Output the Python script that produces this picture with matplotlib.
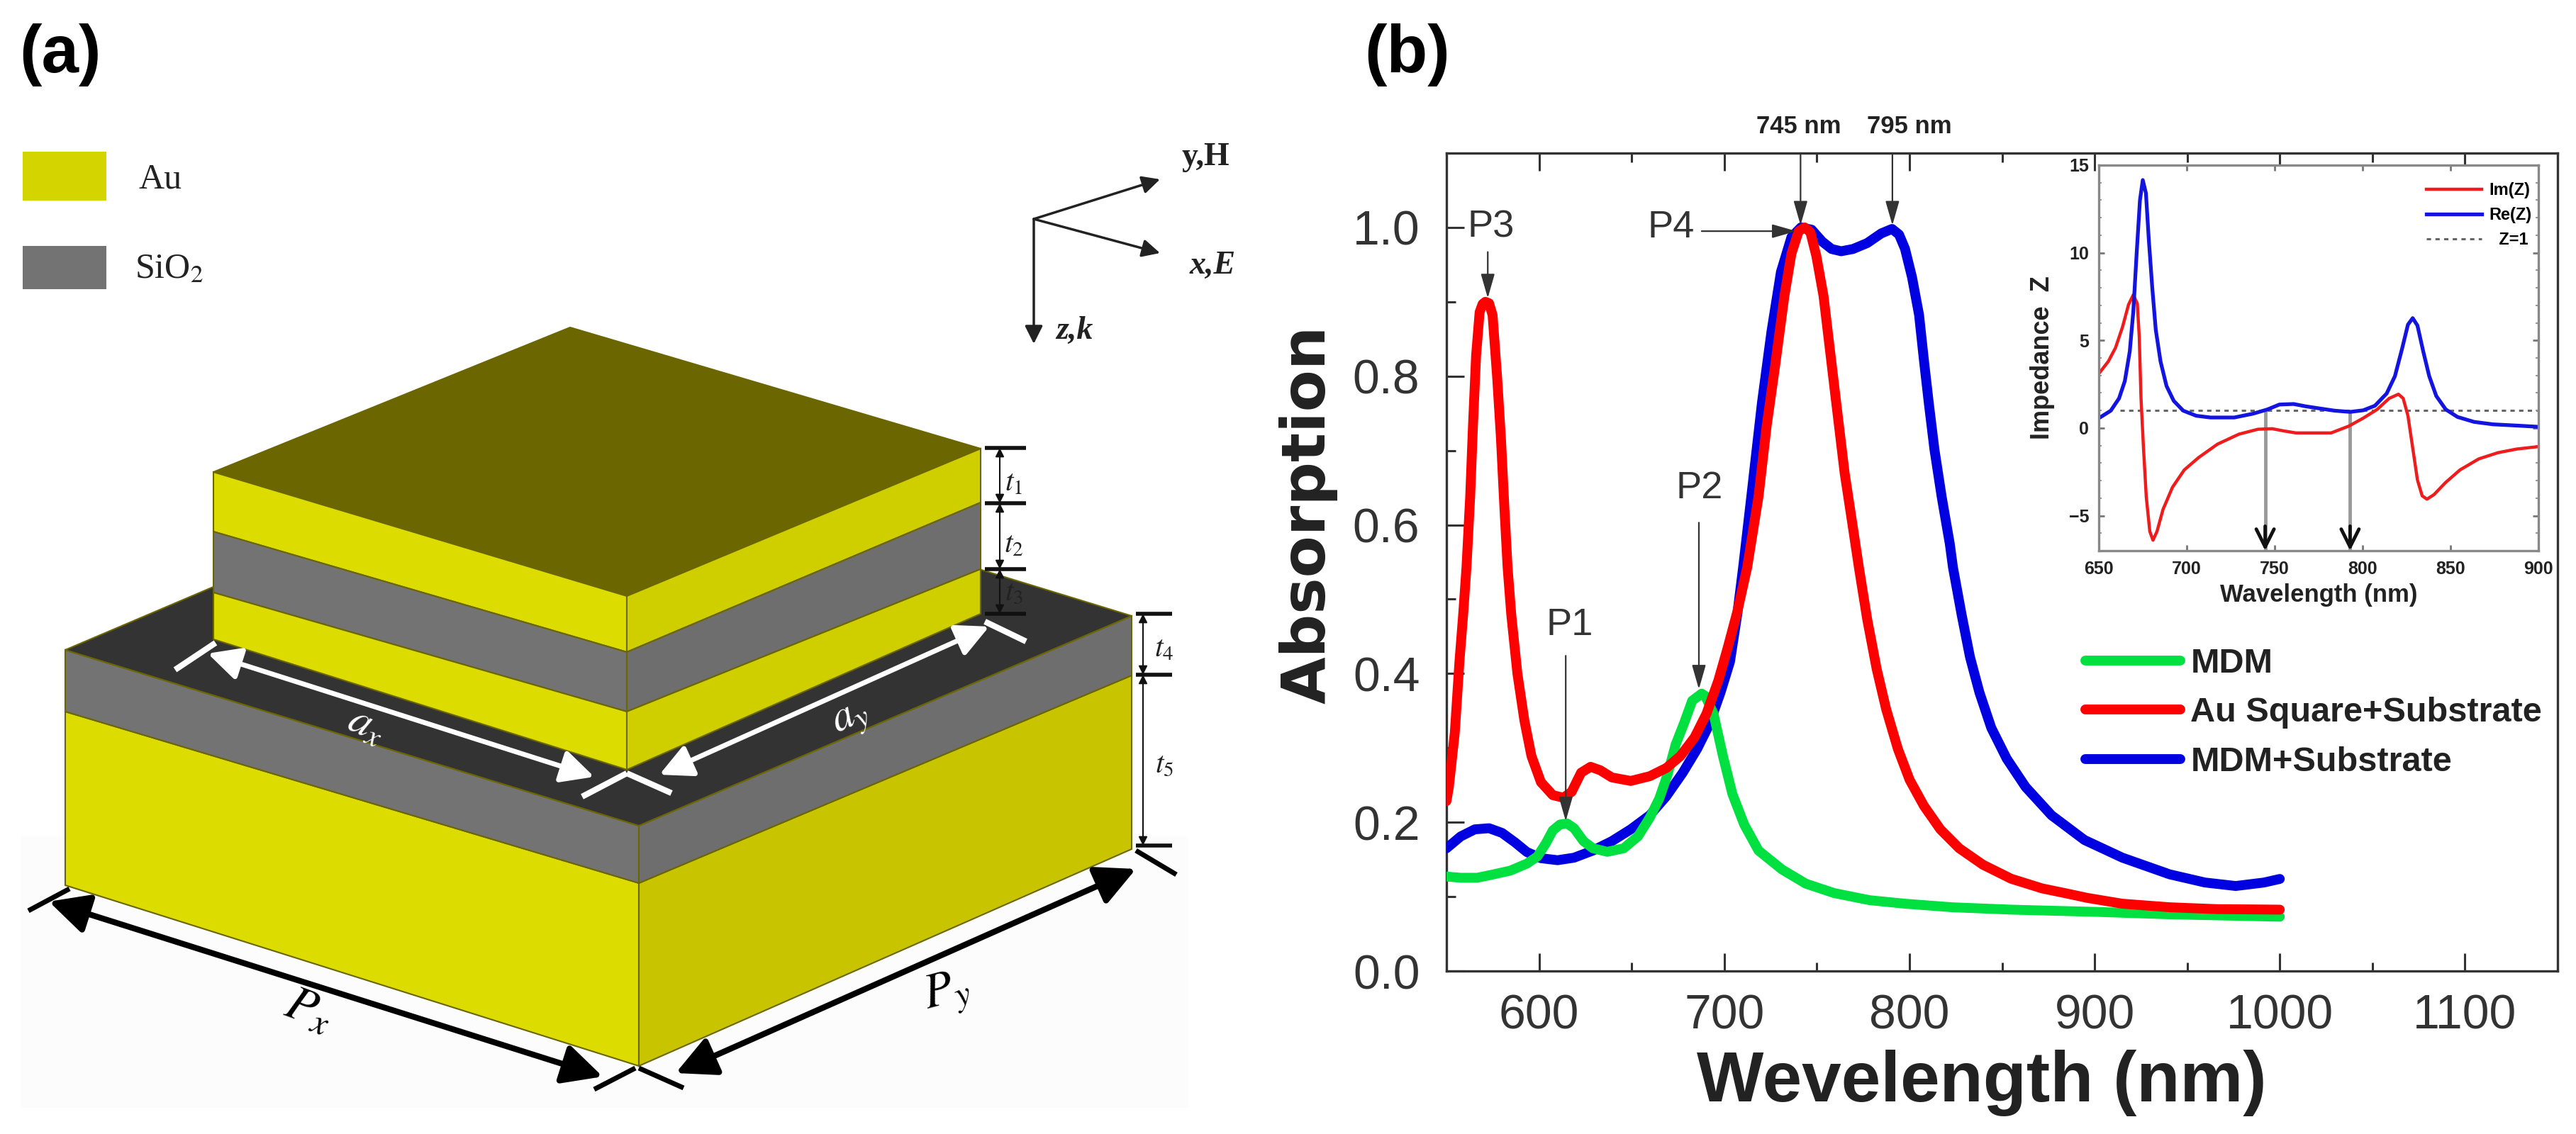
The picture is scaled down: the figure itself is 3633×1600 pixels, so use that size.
from matplotlib import pyplot as plt
from matplotlib.patches import Polygon, Rectangle

plt.rcParams['font.family'] = ['Liberation Sans', 'DejaVu Sans']
plt.rcParams['mathtext.fontset'] = 'stix'

# absorption curves
red_x = [550, 551.3, 554.5, 557, 559, 560.8, 562.8, 564.3, 566, 567.9, 569.5, 571, 573, 574.9, 577.4, 579.4, 581.3, 583,
         585, 588.3, 592.1, 595.9, 601, 607.4, 613.2, 617.6, 622.7, 627.8, 633, 639.3, 649.5, 659.8, 668.7, 676.3, 684,
         690.4, 696.8, 701.9, 707, 712.4, 718.5, 722.9, 727.4, 732.5, 736.3, 740.2, 743.4, 746.5, 749.7, 753.6, 757.4,
         761.2, 765, 768.9, 772.7, 777.2, 782.3, 787.4, 793.8, 800.1, 807.8, 816.7, 826.9, 839.7, 855, 871.6, 886.9,
         895.8, 914.9, 940.5, 966, 1000]
red_y = [.2286, .2476, .3206, .416, .479, .543, .638, .733, .828, .886, .897, .90, .898, .882, .797, .717, .622, .543,
         .479, .40, .3365, .289, .254, .2365, .233, .241, .2667, .2746, .27, .2603, .2556, .262, .273, .289, .3143,
         .346, .3905, .435, .4826, .543, .638, .733, .8126, .908, .965, .995, 1.0, .9936, .962, .908, .8285,
         .749, .67, .606, .543, .473, .4064, .3524, .2984, .2571, .2222, .1905, .165, .1429, .124, .1111, .1032,
         .0984, .0905, .0857, .0832, .0825]
blue_x = [550, 557.7, 565.3, 573, 580, 587, 593.4, 601, 610, 618.9, 629.1, 639.3, 649.5, 659.8, 668.7, 677.6, 685.3, 691.7,
          698, 703.1, 707, 710.2, 714.6, 720.4, 725.5, 730.6, 736.3, 741.4, 747.2, 752.9, 758, 763.1, 769.5, 777.2, 784.8,
          790.6, 794.4, 797.6, 801.4, 805.2, 807.8, 810.4, 813.5, 817.4, 821.8, 823.5, 828.2, 832.7, 837.8, 844.2, 852.5,
          862.7, 876.7, 894.5, 915, 940.5, 959.6, 976.2, 991.5, 1000]
blue_y = [.165, .181, .1905, .192, .1857, .173, .16, .1517, .149, .1524, .162, .1746, .1905, .2095, .235, .2667, .2984, .3302,
          .3746, .416, .479, .543, .638, .765, .86, .94, .987, 1.0, .997, .981, .971, .968, .971, .979, .992,
          .998, .9904, .9714, .933, .8825, .822, .765, .7015, .638, .5745, .543, .479, .4223, .3746, .327, .2857,
          .2476, .2095, .1762, .1524, .13, .119, .1143, .119, .1238]
green_x = [550, 557.7, 566.6, 575.5, 584.5, 593.4, 599.1, 603.6, 607.4, 611.3, 615.1, 618.9, 624, 629.1, 636.8, 645.7, 653.4,
           659.8, 664.9, 669.3, 673.8, 678.3, 682.7, 687.8, 689.7, 694.2, 699.3, 704.4, 710.8, 718.5, 731.2, 744, 759.3,
           778.5, 797.6, 823.1, 855, 902.2, 940.5, 1000]
green_y = [.127, .1254, .1254, .13, .135, .1444, .154, .1714, .189, .197, .1984, .192, .1746, .165, .1603, .165, .181,
           .2063, .2318, .2635, .3048, .3333, .3635, .373, .37, .346, .289, .238, .1968, .162, .1365, .1175, .1048,
           .0952, .0905, .0857, .0825, .0794, .0762, .0730]

# impedance curves from the inset
im_x = [650, 655.4, 659.5, 663.5, 666.9, 669.6, 671.9, 673, 674, 675.4, 677, 679, 680.8, 683.1, 686.5, 691.9, 698.6, 706.7,
        717.5, 729.7, 740.5, 748.6, 755.4, 762.1, 767.5, 782.1, 792.2, 800.3, 808.3, 815.1, 820.4, 823.1, 825.8, 828.5,
        831.2, 833.9, 836.6, 840.6, 847.3, 855.4, 866.1, 876.9, 887.6, 900]
im_y = [3.1, 3.8, 4.58, 5.77, 7.04, 7.6, 7.1, 5.2, 1.7, -1.13, -3.94, -5.9, -6.4, -5.9, -4.65, -3.38, -2.39, -1.69,
        -.92, -.35, -.07, -.04, -.17, -.28, -.28, -.28, .11, .56, 1.06, 1.69, 1.93, 1.69, .7, -1.13,
        -2.96, -3.87, -4.06, -3.8, -3.1, -2.39, -1.76, -1.41, -1.2, -1.06]
re_x = [650, 656.8, 661.5, 664.8, 667.6, 669.6, 671.6, 673.4, 675, 676.8, 678.4, 680.4, 682.4, 685.1, 688.5, 692.6, 698, 705.4,
        713.5, 727, 737.8, 745.9, 752.7, 760.8, 767.5, 774.7, 784.1, 792.9, 800.3, 807, 813.7, 818.4, 822.4, 825.8, 828.5,
        831.2, 834.5, 837.9, 841.9, 847.3, 854, 863.4, 874.2, 887.6, 900]
re_y = [.56, .99, 1.69, 2.68, 4.37, 6.62, 10.1, 13, 14.15, 13.4, 10.8, 8, 5.6, 3.8, 2.4, 1.55, .99, .7,
        .6, .6, .82, 1.06, 1.34, 1.37, 1.24, 1.13, .99, .92, 1.01, 1.27, 1.97, 2.96, 4.5, 5.9, 6.27,
        5.85, 4.37, 2.96, 1.83, 1.06, .63, .35, .21, .14, .07]
z_line_x = [662, 900]
z_line_y = [1, 1]

x_ticks = [600, 700, 800, 900, 1000, 1100]
x_minor = [550, 650, 750, 850, 950, 1050, 1150]
y_ticks = [0.0, 0.2, 0.4, 0.6, 0.8, 1.0]
y_minor = [0.1, 0.3, 0.5, 0.7, 0.9]
inset_x_ticks = [650, 700, 750, 800, 850, 900]
inset_y_ticks = [-5, 0, 5, 10, 15]
inset_y_minor = [-6, -4, -3, -2, -1, 1, 2, 3, 4, 6, 7, 8, 9, 11, 12, 13, 14]
marked_nm = [744.6, 792.9]

# schematic of panel (a), pixel positions of the block corners
base_left = [[92, 1004], [901, 1246], [901, 1504], [92, 1249]]
base_right = [[901, 1246], [1596, 953], [1596, 1198], [901, 1504]]
sio_left = [[92, 917], [901, 1165], [901, 1246], [92, 1004]]
sio_right = [[901, 1165], [1596, 869], [1596, 953], [901, 1246]]
sio_top = [[92, 917], [787, 621], [1596, 869], [901, 1165]]
top_face = [[804, 462], [1383, 633], [884, 841], [301, 666]]
left_bands = [(666, 750, 841, 920, '#dcdc00'), (750, 836, 920, 1004, '#737373'), (836, 902, 1004, 1086, '#dcdc00')]
right_bands = [(841, 920, 633, 709, '#cfcf00'), (920, 1004, 709, 803, '#6e6e6e'), (1004, 1086, 803, 866, '#cfcf00')]

fig = plt.figure(figsize=(36.33, 16), dpi=100)
W, H = 3633.0, 1600.0

# full figure layer for panel (a) in pixel coordinates
bg = fig.add_axes([0, 0, 1, 1])
bg.set_xlim(0, W)
bg.set_ylim(H, 0)
bg.axis('off')

bg.add_patch(Rectangle((29, 1180), 1647, 383, fc='#fcfcfc', ec='none'))
for pts, col in [(base_left, '#dcdc00'), (base_right, '#c8c400'), (sio_left, '#737373'), (sio_right, '#6e6e6e'),
                 (sio_top, '#333333'), (top_face, '#6b6600')]:
    bg.add_patch(Polygon(pts, fc=col, ec='#6b6600', lw=1.5))
for y0, y1, y2, y3, col in left_bands:
    bg.add_patch(Polygon([[301, y0], [884, y2], [884, y3], [301, y1]], fc=col, ec='#6b6600', lw=1.5))
for y0, y1, y2, y3, col in right_bands:
    bg.add_patch(Polygon([[884, y0], [1383, y2], [1383, y3], [884, y1]], fc=col, ec='#6b6600', lw=1.5))

# material key
bg.add_patch(Rectangle((32, 214), 118, 69, fc='#d4d400', ec='none'))
bg.add_patch(Rectangle((32, 347), 118, 61, fc='#737373', ec='none'))
bg.text(195, 253, 'Au', family='Liberation Serif', fontsize=36, color='#222222', va='center')
bg.text(190, 380, 'SiO$_2$', family='Liberation Serif', fontsize=36, color='#222222', va='center')

# field directions
for tip in [(1636, 253), (1636, 357), (1458, 485)]:
    bg.annotate('', xy=tip, xytext=(1458, 309),
                arrowprops=dict(arrowstyle='-|>', color='#222222', lw=2.5, mutation_scale=38, shrinkA=0, shrinkB=0))
bg.text(1700, 222, 'y,H', family='Liberation Serif', weight='bold', fontsize=33, color='#222222', ha='center', va='center')
bg.text(1710, 375, 'x,E', family='Liberation Serif', weight='bold', style='italic', fontsize=33, color='#222222', ha='center', va='center')
bg.text(1515, 467, 'z,k', family='Liberation Serif', weight='bold', style='italic', fontsize=33, color='#222222', ha='center', va='center')

# thickness marks
for x0, x1, y in [(1389, 1447, 632), (1389, 1447, 710), (1389, 1447, 803), (1389, 1447, 866),
                  (1602, 1653, 866), (1602, 1653, 952), (1602, 1653, 1193)]:
    bg.plot([x0, x1], [y, y], color='#111111', lw=4, solid_capstyle='butt')
for x, y0, y1 in [(1410, 632, 710), (1410, 710, 803), (1410, 803, 866), (1612, 866, 952), (1612, 952, 1193)]:
    bg.annotate('', xy=(x, y1), xytext=(x, y0),
                arrowprops=dict(arrowstyle='<|-|>', color='#111111', lw=1.5, mutation_scale=18, shrinkA=0, shrinkB=0))
for x, y, lab in [(1430, 681, '$t_1$'), (1430, 768, '$t_2$'), (1430, 835, '$t_3$'), (1642, 915, '$t_4$'), (1642, 1078, '$t_5$')]:
    bg.text(x, y, lab, fontsize=30, color='#222222', ha='center', va='center')

# white and black span arrows on the block
for (x0, y0), (x1, y1) in [((293, 922), (838, 1096)), ((1395, 884), (930, 1093))]:
    bg.annotate('', xy=(x1, y1), xytext=(x0, y0),
                arrowprops=dict(arrowstyle='<|-|>', color='white', lw=5, mutation_scale=70, shrinkA=0, shrinkB=0))
for xs, ys in [([247, 304], [945, 907]), ([821, 884], [1124, 1091]), ([1389, 1447], [877, 905]), ([884, 947], [1091, 1119])]:
    bg.plot(xs, ys, color='white', lw=6, solid_capstyle='butt')
bg.text(517, 1024, '$a_x$', color='white', fontsize=44, rotation=-25, ha='center', va='center')
bg.text(1200, 1014, '$a_y$', color='white', fontsize=44, rotation=25, ha='center', va='center')

for (x0, y0), (x1, y1) in [((69, 1272), (850, 1519)), ((953, 1514), (1602, 1226))]:
    bg.annotate('', xy=(x1, y1), xytext=(x0, y0),
                arrowprops=dict(arrowstyle='<|-|>', color='black', lw=6, mutation_scale=85, shrinkA=0, shrinkB=0))
for xs, ys in [([40, 98], [1285, 1254]), ([838, 896], [1537, 1507]), ([901, 964], [1507, 1535]), ([1602, 1659], [1200, 1234])]:
    bg.plot(xs, ys, color='black', lw=5, solid_capstyle='butt')
bg.text(435, 1425, '$P_x$', color='black', fontsize=50, rotation=-20, ha='center', va='center')
bg.text(1335, 1402, '$P_y$', color='black', fontsize=50, rotation=15, ha='center', va='center')

bg.text(85, 78, '(a)', fontsize=68, weight='bold', color='black', ha='center', va='center')
bg.text(1985, 78, '(b)', fontsize=68, weight='bold', color='black', ha='center', va='center')

# main absorption plot
ax = fig.add_axes([2040 / W, 1 - 1370 / H, (3607 - 2040) / W, (1370 - 216) / H])
ax.patch.set_alpha(0)
ax.plot(blue_x, blue_y, color='#0000e0', lw=10, label='MDM+Substrate', solid_capstyle='round', zorder=3)
ax.plot(green_x, green_y, color='#00e040', lw=10, label='MDM', solid_capstyle='round', zorder=4)
ax.plot(red_x, red_y, color='#ff0000', lw=10, label='Au Square+Substrate', solid_capstyle='round', zorder=5)
ax.set_xlim(550, 1150)
ax.set_ylim(0, 1.1)
ax.set_xticks(x_ticks)
ax.set_xticks(x_minor, minor=True)
ax.set_yticks(y_ticks)
ax.set_yticks(y_minor, minor=True)
ax.set_yticklabels([f'{v:.1f}' for v in y_ticks])
ax.tick_params(which='major', direction='in', length=18, width=2.2, color='#333333', labelsize=49, labelcolor='#333333', top=True)
ax.tick_params(which='minor', direction='in', length=9, width=2.2, color='#333333', top=True)
ax.tick_params(axis='x', which='major', pad=23)
ax.tick_params(axis='y', which='major', pad=27)
for s in ax.spines.values():
    s.set_linewidth(2.4)
    s.set_color('#333333')

arrow = dict(arrowstyle='-|>,head_length=0.7,head_width=0.2', color='#333333', lw=1.6, mutation_scale=30, shrinkA=0, shrinkB=0)
for lab, x, y in [('P3', 574, 1.0), ('P4', 671.2, 1.0), ('P2', 686.5, .649), ('P1', 616.6, .465)]:
    ax.text(x, y, lab, fontsize=39, color='#333333', ha='center', va='center', zorder=7)
ax.annotate('', xy=(572.3, .905), xytext=(572.3, .967), arrowprops=arrow, zorder=7)
ax.annotate('', xy=(738.9, .995), xytext=(687.8, .995), arrowprops=arrow, zorder=7)
ax.annotate('', xy=(686.3, .379), xytext=(686.3, .603), arrowprops=arrow, zorder=7)
ax.annotate('', xy=(614.4, .2016), xytext=(614.4, .424), arrowprops=arrow, zorder=7)
ax.annotate('', xy=(741.2, 1.003), xytext=(741.2, 1.1), arrowprops=arrow, zorder=7)
ax.annotate('', xy=(790.8, 1.003), xytext=(790.8, 1.1), arrowprops=arrow, zorder=7)
ax.text(740.3, 1.136, '745 nm', fontsize=25, weight='bold', color='#222222', ha='center', va='center')
ax.text(800, 1.136, '795 nm', fontsize=25, weight='bold', color='#222222', ha='center', va='center')

handles, labels = ax.get_legend_handles_labels()
order = [1, 2, 0]
leg = ax.legend([handles[i] for i in order], [labels[i] for i in order], loc='upper left',
                bbox_to_anchor=(0.575, 0.395), frameon=False, prop=dict(size=35, weight='bold'),
                handlelength=2.75, handletextpad=.3, labelspacing=.5, borderpad=0, borderaxespad=0)
for t in leg.get_texts():
    t.set_color('#222222')

fig.text(1845 / W, 1 - 726 / H, 'Absorption', family='DejaVu Sans', fontsize=62, weight='bold', color='#222222',
         rotation=90, ha='center', va='center')
fig.text(2795 / W, 1 - 1528 / H, 'Wevelength (nm)', fontsize=72, weight='bold', color='#222222', ha='center', va='center')

# inset impedance plot
ins = fig.add_axes([2960 / W, 1 - 777 / H, (3580 - 2960) / W, (777 - 233) / H])
ins.plot(im_x, im_y, color='#ee1c1c', lw=3.2, label='Im(Z)', solid_joinstyle='round')
ins.plot(re_x, re_y, color='#1414e0', lw=3.8, label='Re(Z)', solid_joinstyle='round')
ins.plot(z_line_x, z_line_y, color='#666666', lw=2.2, ls=(0, (2, 2)), label='  Z=1', zorder=1)
ins.set_xlim(650, 900)
ins.set_ylim(-7, 15)
ins.set_xticks(inset_x_ticks)
ins.set_yticks(inset_y_ticks)
ins.set_yticks(inset_y_minor, minor=True)
ins.tick_params(which='major', direction='in', length=6, width=2, color='#777777', labelsize=18, labelcolor='#222222', pad=10, top=True, right=True)
ins.tick_params(which='minor', direction='in', length=3, width=1.5, color='#999999', right=True)
for t in ins.get_xticklabels() + ins.get_yticklabels():
    t.set_fontweight('bold')
for s in ins.spines.values():
    s.set_linewidth(2.4)
    s.set_color('#888888')
ins.set_xlabel('Wavelength (nm)', fontsize=25, weight='bold', color='#222222', labelpad=6)
ins.set_ylabel('Impedance  Z', fontsize=26, weight='bold', color='#222222', labelpad=14)
for x in marked_nm:
    ins.plot([x, x], [1, -7], color='#999999', lw=3.5, solid_capstyle='butt', zorder=1)
    ins.annotate('', xy=(x, -7), xytext=(x, -5.6),
                 arrowprops=dict(arrowstyle='->,head_length=0.5,head_width=0.25', color='#111111', lw=3.5,
                                 mutation_scale=36, shrinkA=0, shrinkB=0))
ins_leg = ins.legend(loc='upper right', bbox_to_anchor=(0.985, 0.955), frameon=False, prop=dict(size=17, weight='bold'),
                     handlelength=3.3, handletextpad=.45, labelspacing=.5, borderpad=0, borderaxespad=0)

plt.savefig('out.png', dpi=100)
